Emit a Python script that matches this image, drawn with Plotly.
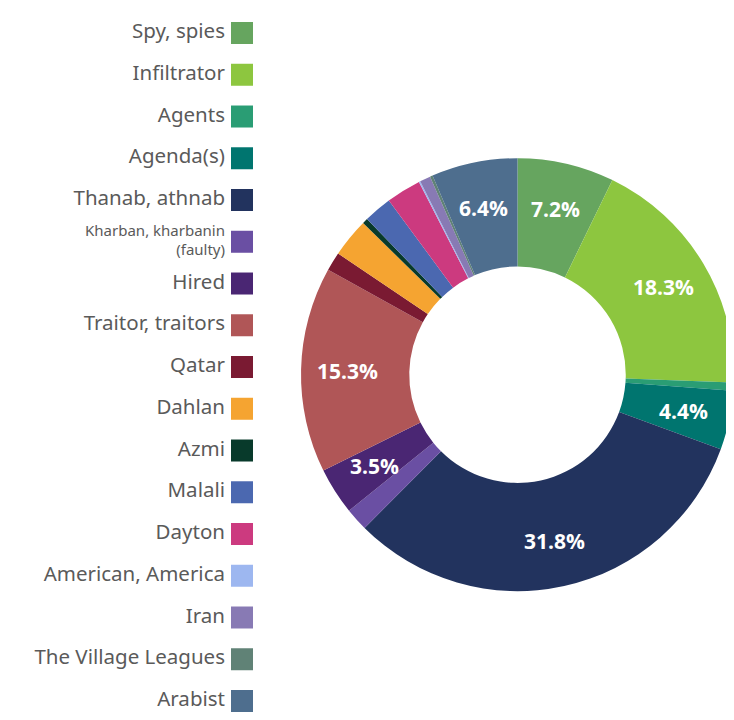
import numpy as np
import plotly.graph_objects as go

labels = ['Spy, spies', 'Infiltrator', 'Agents', 'Agenda(s)', 'Thanab, athnab',
          'Kharban, kharbanin<br>(faulty)', 'Hired', 'Traitor, traitors', 'Qatar',
          'Dahlan', 'Azmi', 'Malali', 'Dayton', 'American, America', 'Iran',
          'The Village Leagues', 'Arabist']
values = [7.2, 18.3, 0.6, 4.4, 31.8, 1.7, 3.5, 15.3, 1.4,
          2.9, 0.4, 2.1, 2.6, 0.1, 0.8, 0.2, 6.4]
shown = ['7.2%', '18.3%', '', '4.4%', '31.8%', '', '3.5%', '15.3%', '',
         '', '', '', '', '', '', '', '6.4%']
colors = ['#66a55f', '#8dc63f', '#2a9d74', '#00756f', '#22335e', '#6a4fa3',
          '#4a2673', '#b05657', '#7a1a32', '#f5a431', '#083a2b', '#4b68b0',
          '#cc3a7f', '#9db7f0', '#887ab4', '#608276', '#4e6e8e']

TEXT_GRAY = '#5a5a5a'
W, H = 726, 712  # page adds an 8px body margin

PIE_X = [0.4036, 1.0]
PIE_Y = [0.17, 0.80]

fig = go.Figure()

fig.add_trace(go.Pie(
    labels=labels,
    values=values,
    textinfo='none',
    marker=dict(colors=colors, line=dict(width=0)),
    hole=0.5,
    sort=False,
    direction='clockwise',
    rotation=0,
    domain=dict(x=PIE_X, y=PIE_Y),
    showlegend=False,
    hoverinfo='label+value',
))

# percentage labels at the middle angle of each slice (annotations sit above the pie layer)
vals = np.array(values)
mid = (np.cumsum(vals) - vals / 2) / vals.sum() * 2 * np.pi
lab_r = 0.785
for i, s in enumerate(shown):
    if not s:
        continue
    fig.add_annotation(
        x=lab_r * np.sin(mid[i]), y=lab_r * np.cos(mid[i]),
        xref='x2', yref='y2', text=s, showarrow=False,
        font=dict(family='Open Sans', size=21, color='white', weight='bold'),
    )

# custom legend: label on the left, colour square on the right
rows = list(range(len(labels)))
sizes = [15 if '<br>' in lab else 20.5 for lab in labels]
fig.add_trace(go.Scatter(
    x=[0] * len(labels),
    y=rows,
    mode='markers',
    marker=dict(symbol='square', size=22, color=colors, line=dict(width=0)),
    showlegend=False,
    hoverinfo='skip',
    cliponaxis=False,
))
fig.add_trace(go.Scatter(
    x=[-17] * len(labels),
    y=rows,
    mode='text',
    text=labels,
    textposition='middle left',
    textfont=dict(family='Noto Sans', size=sizes, color=TEXT_GRAY),
    showlegend=False,
    hoverinfo='skip',
    cliponaxis=False,
))

pie_w = (PIE_X[1] - PIE_X[0]) * W
pie_h = (PIE_Y[1] - PIE_Y[0]) * H
yr = pie_h / pie_w

fig.update_layout(
    width=W,
    height=H,
    margin=dict(l=0, r=0, t=0, b=0),
    paper_bgcolor='white',
    plot_bgcolor='rgba(0,0,0,0)',
    xaxis=dict(domain=[0, 0.36], range=[-234, 0.36 * W - 234], visible=False, fixedrange=True),
    yaxis=dict(domain=[0, 1], range=[16.455, -0.599], visible=False, fixedrange=True),
    xaxis2=dict(domain=PIE_X, range=[-1, 1], visible=False, fixedrange=True),
    yaxis2=dict(domain=PIE_Y, range=[-yr, yr], visible=False, fixedrange=True, anchor='x2'),
)

fig.write_html('out.html')
